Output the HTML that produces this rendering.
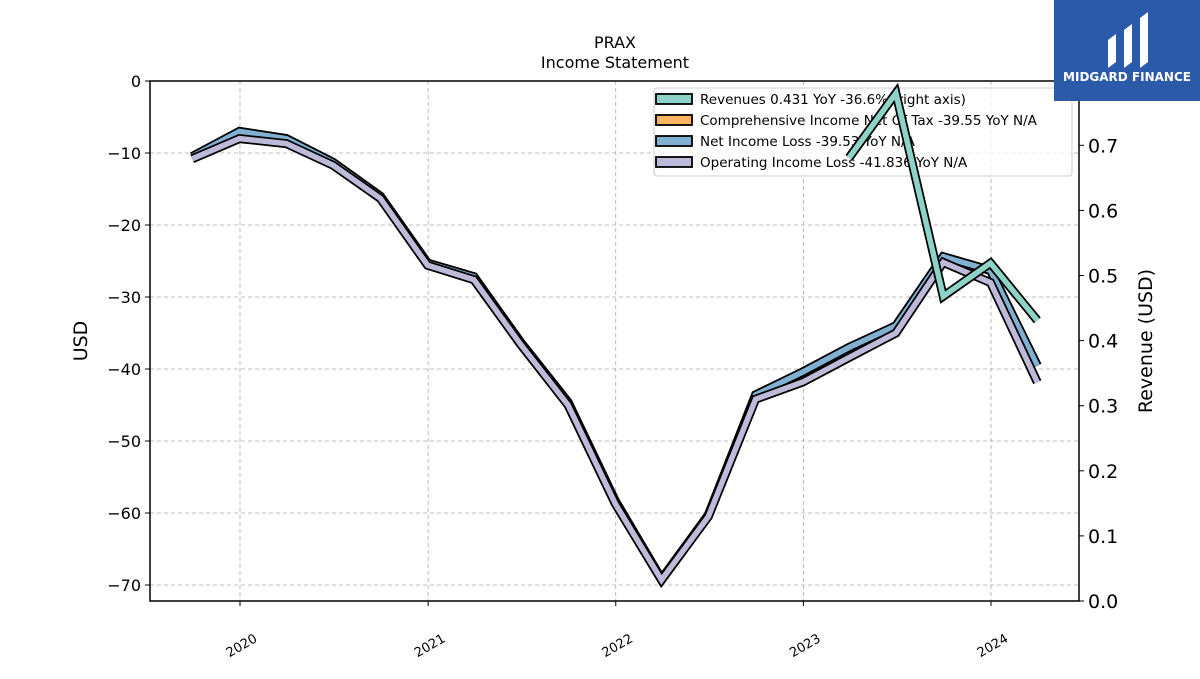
<!DOCTYPE html>
<html><head><meta charset="utf-8"><style>
body{margin:0;background:#fff;width:1200px;height:675px;overflow:hidden;font-family:"DejaVu Sans","Liberation Sans",sans-serif}
</style></head><body>
<svg id="chart" width="1200" height="675" xmlns="http://www.w3.org/2000/svg" font-family="DejaVu Sans, Liberation Sans, sans-serif">
<text x="615" y="48" text-anchor="middle" font-size="16">PRAX</text>
<text x="615" y="68" text-anchor="middle" font-size="16">Income Statement</text>
<g id="grid"></g>
<g id="series"></g>
<rect x="150" y="81" width="929" height="520" fill="none" stroke="#000" stroke-width="1.5"/>
<g id="axes"></g>
<text transform="translate(87,341) rotate(-90)" text-anchor="middle" font-size="19">USD</text>
<text transform="translate(1152,341) rotate(-90)" text-anchor="middle" font-size="19">Revenue (USD)</text>
<g id="legend">
<rect x="654" y="88" width="418" height="88" fill="#fff" fill-opacity="0.8" stroke="#ccc" rx="3"/>
</g>
<g>
<rect x="1054" y="0" width="146" height="101" fill="#2b5aa8"/>
<path d="M1108 68 L1108 40 L1116 34 L1116 62 Z M1124 68 L1124 30 L1132 24 L1132 62 Z M1140 68 L1140 18 L1148 12 L1148 62 Z" fill="#fff"/>
<text x="1127" y="81" text-anchor="middle" font-size="12" font-weight="bold" fill="#fff">MIDGARD FINANCE</text>
</g>
</svg>
<script>
const dates=["2019-09-30","2019-12-31","2020-03-31","2020-06-30","2020-09-30","2020-12-31","2021-03-31","2021-06-30","2021-09-30","2021-12-31","2022-03-31","2022-06-30","2022-09-30","2022-12-31","2023-03-31","2023-06-30","2023-09-30","2023-12-31","2024-03-31"];
const netIncome=[-10.5,-7.0,-8.0,-11.3,-16.0,-25.3,-27.2,-36.3,-44.6,-58.3,-69.2,-60.3,-43.6,-40.4,-37.0,-34.0,-24.4,-26.3,-39.53];
const compIncome=[-10.5,-7.0,-8.0,-11.3,-16.0,-25.3,-27.2,-36.3,-44.6,-58.3,-69.2,-60.3,-43.6,-40.4,-37.0,-34.0,-24.4,-26.3,-39.55];
const opIncome=[-10.8,-8.0,-8.7,-11.7,-16.3,-25.6,-27.6,-36.6,-45.0,-58.7,-69.3,-60.5,-44.2,-41.8,-38.4,-35.0,-25.2,-28.0,-41.836];
const revDates=["2023-03-31","2023-06-30","2023-09-30","2023-12-31","2024-03-31"];
const revenues=[0.681,0.78,0.468,0.519,0.431];
const leftTicks=[0,-10,-20,-30,-40,-50,-60,-70];
const rightTicks=[0.0,0.1,0.2,0.3,0.4,0.5,0.6,0.7];
const yearTicks=[2020,2021,2022,2023,2024];
const legendLabels=["Revenues  0.431 YoY -36.6% (right axis)","Comprehensive Income Net Of Tax  -39.55 YoY N/A","Net Income Loss  -39.53 YoY N/A","Operating Income Loss  -41.836 YoY N/A"];
const legendColors=["#8dd3c7","#fdb462","#80b1d3","#bebada"];

const NS="http://www.w3.org/2000/svg";
const X0=150,X1=1079,Y0=81,Y1=601;
const t0=Date.UTC(2020,0,1),msYear=365.25*864e5;
function xs(d){const t=typeof d==="number"?Date.UTC(d,0,1):Date.parse(d);return 240+(t-t0)/msYear*187.75;}
function yl(v){return 81-v*7.2;}
function yr(v){return 601-v*651;}
function mk(tag,attrs,parent){const e=document.createElementNS(NS,tag);for(const k in attrs)e.setAttribute(k,attrs[k]);parent.appendChild(e);return e;}
const grid=document.getElementById('grid'),axes=document.getElementById('axes'),ser=document.getElementById('series');
leftTicks.forEach(v=>{const y=yl(v);
 const g=mk('line',{x1:X0,x2:X1,y1:y,y2:y,stroke:'#aaa','stroke-dasharray':'4,3','stroke-width':0.8},grid);
 
 
 mk('line',{x1:X0-5,x2:X0,y1:y,y2:y,stroke:'#000'},axes);
 const t=mk('text',{x:X0-9,y:y+6,'text-anchor':'end','font-size':16},axes);t.textContent=v<0?'\u2212'+(-v):v;
 
 });
rightTicks.forEach(v=>{const y=yr(v);
 mk('line',{x1:X1,x2:X1+5,y1:y,y2:y,stroke:'#000'},axes);
 const t=mk('text',{x:X1+9,y:y+7,'font-size':19},axes);t.textContent=v.toFixed(1);
 
 });
yearTicks.forEach(yv=>{const x=xs(yv);
 const g=mk('line',{x1:x,x2:x,y1:Y0,y2:Y1,stroke:'#aaa','stroke-dasharray':'4,3','stroke-width':0.8},grid);
 
 
 mk('line',{x1:x,x2:x,y1:Y1,y2:Y1+5,stroke:'#000'},axes);
 const t=mk('text',{transform:`translate(${x+18},${Y1+40}) rotate(-30)`,'text-anchor':'end','font-size':13},axes);t.textContent=yv;
 
 });
function line(ds,vals,yf,color,name){
 const pts=ds.map((d,i)=>xs(d).toFixed(1)+','+yf(vals[i]).toFixed(1)).join(' ');
 const o=mk('polyline',{points:pts,fill:'none',stroke:'#000','stroke-width':9,'stroke-linejoin':'miter','stroke-linecap':'butt'},ser);
 
 
 const l=mk('polyline',{points:pts,fill:'none',stroke:color,'stroke-width':5.5,'stroke-linejoin':'miter','stroke-linecap':'butt'},ser);
 
 }
line(dates,compIncome,yl,legendColors[1],'comprehensive-income');
line(dates,netIncome,yl,legendColors[2],'net-income');
line(dates,opIncome,yl,legendColors[3],'operating-income');
line(revDates,revenues,yr,legendColors[0],'revenues');
const leg=document.getElementById('legend');
legendLabels.forEach((s,i)=>{const y=99+i*21;
 const r=mk('rect',{x:656,y:y-5,width:36,height:10,fill:legendColors[i],stroke:'#000','stroke-width':1.8},leg);
 
 
 const t=mk('text',{x:700,y:y+5,'font-size':13.5},leg);t.textContent=s;
 
 });
// move legend below revenue line (matplotlib draws legend above, but line overlaps in reference)
ser.parentNode.appendChild(ser.lastChild.previousSibling);ser.parentNode.appendChild(ser.lastChild);
</script>
</body></html>
